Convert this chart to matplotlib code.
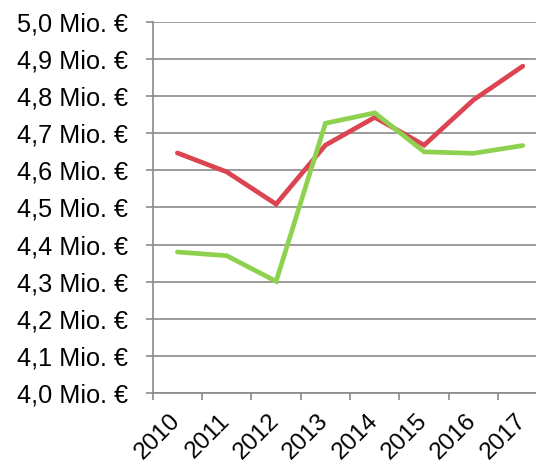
import matplotlib
matplotlib.use("Agg")
import matplotlib.pyplot as plt
from matplotlib.ticker import FixedLocator, FuncFormatter
from matplotlib.transforms import ScaledTranslation

years = ["2010", "2011", "2012", "2013", "2014", "2015", "2016", "2017"]
series_red = [4.647, 4.596, 4.509, 4.668, 4.743, 4.668, 4.790, 4.881]
series_green = [4.380, 4.370, 4.301, 4.727, 4.755, 4.650, 4.646, 4.667]
y_ticks = [4.0, 4.1, 4.2, 4.3, 4.4, 4.5, 4.6, 4.7, 4.8, 4.9, 5.0]

plt.rcParams["font.family"] = ["Liberation Sans", "DejaVu Sans"]

fig = plt.figure(figsize=(5.36, 4.66), dpi=100)
ax = fig.add_axes([0.2849, 0.1567, 0.7366, 0.7961])

axis_grey = "#8a8a8a"
x = list(range(len(years)))
ax.plot(x, series_red, color="#dc4451", lw=3.4, solid_capstyle="round",
        solid_joinstyle="miter", zorder=3)
ax.plot(x, series_green, color="#8ed14f", lw=3.4, solid_capstyle="round",
        solid_joinstyle="miter", zorder=3)

ax.set_xlim(-0.5, len(years) - 0.5)
ax.set_ylim(4.0, 5.0)

ax.yaxis.set_major_locator(FixedLocator(y_ticks))
ax.yaxis.set_major_formatter(FuncFormatter(lambda v, p: f"{v:.1f}".replace(".", ",") + " Mio. €"))
ax.grid(axis="y", color=axis_grey, lw=1.2, zorder=1)

# category ticks sit on the boundaries
ax.set_xticks([i - 0.5 for i in x])
ax.set_xticklabels([])
ax.tick_params(axis="x", which="major", length=5, width=1.2, color=axis_grey)

# year labels: rotated, their ends just left of each bin's centre
label_tf = ax.get_xaxis_transform() + ScaledTranslation(-8 / 100, -17 / 100, fig.dpi_scale_trans)
for xi, year in zip(x, years):
    ax.text(xi, 0, year, transform=label_tf, rotation=45, ha="right", va="top",
            rotation_mode="anchor", fontsize=17.5, clip_on=False)

ax.tick_params(axis="y", length=5, width=1.2, color=axis_grey, labelsize=18.2, pad=13)

for side in ("top", "right"):
    ax.spines[side].set_visible(False)
for side in ("left", "bottom"):
    ax.spines[side].set_color(axis_grey)
    ax.spines[side].set_linewidth(1.2)

fig.savefig("out.png", dpi=100)
